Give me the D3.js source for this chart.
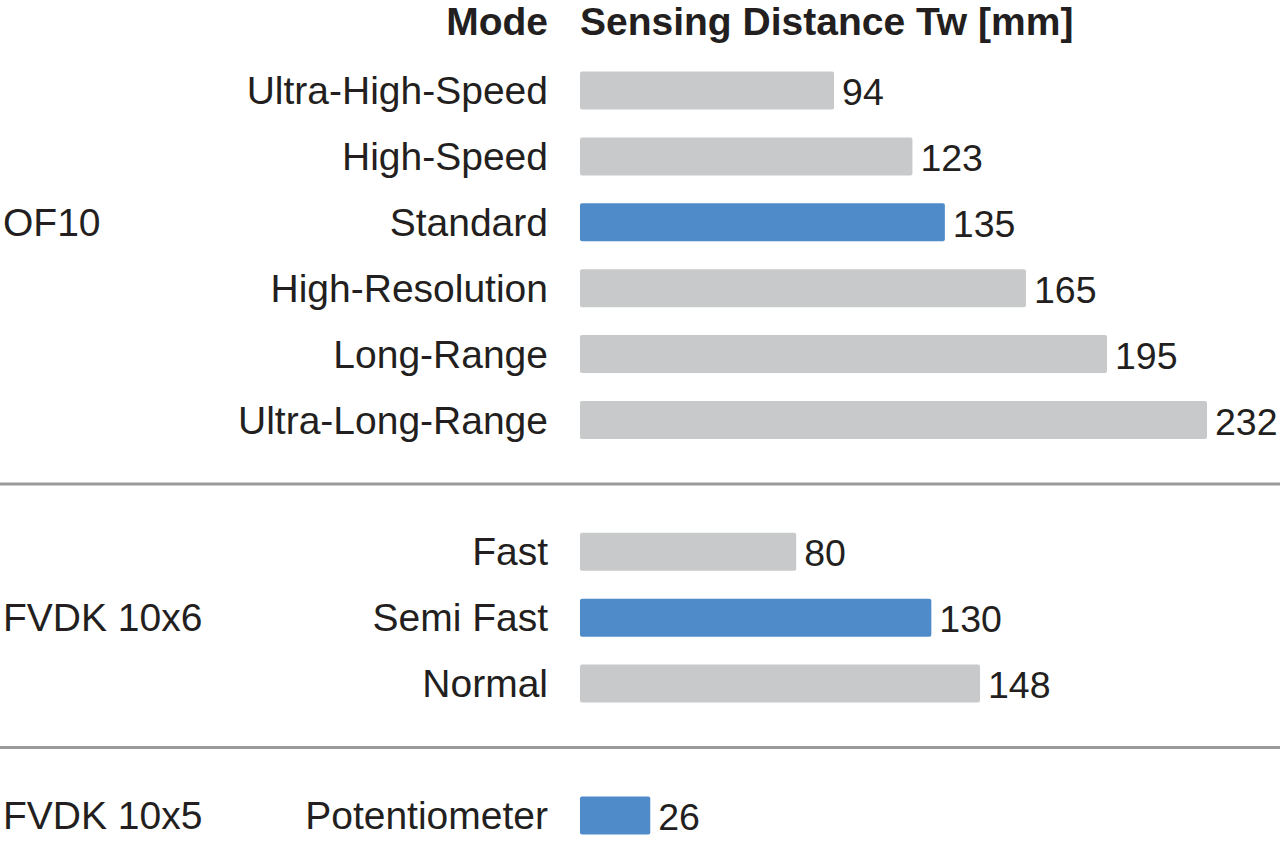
<!DOCTYPE html>
<html lang="en">
<head>
<meta charset="UTF-8">
<title>Sensing Distance</title>
<script src="https://d3js.org/d3.v7.min.js"></script>
<style>
  body { margin: 0; background: #fff; }
  text { font-family: "Liberation Sans", Arial, sans-serif; fill: #231f20; }
</style>
</head>
<body>
<div id="chart"></div>
<script>
// data
const groups = ["OF10", "FVDK 10x6", "FVDK 10x5"];
const modes = ["Ultra-High-Speed", "High-Speed", "Standard", "High-Resolution", "Long-Range", "Ultra-Long-Range",
               "Fast", "Semi Fast", "Normal",
               "Potentiometer"];
const modeGroup = ["OF10", "OF10", "OF10", "OF10", "OF10", "OF10",
                   "FVDK 10x6", "FVDK 10x6", "FVDK 10x6",
                   "FVDK 10x5"];
const distance = [94, 123, 135, 165, 195, 232, 80, 130, 148, 26];
const highlighted = ["Standard", "Semi Fast", "Potentiometer"];
const headers = ["Mode", "Sensing Distance Tw [mm]"];

const W = 1280, H = 842;
const fs = 39;
const svg = d3.select("#chart").append("svg")
  .attr("width", W).attr("height", H);

// rows: one empty slot between groups
let slot = 0;
const rows = modes.map((m, i) => {
  if (i > 0 && modeGroup[i] !== modeGroup[i - 1]) slot++;
  return { mode: m, group: modeGroup[i], value: distance[i], slot: slot++ };
});

const y = d3.scaleLinear().domain([0, 1]).range([90.5, 156.4]);
const x = d3.scaleLinear().domain([0, 232]).range([580, 1207]);
const barH = 38;

// header
svg.append("text").attr("x", 548).attr("y", y(-1) - 3).attr("dy", "0.35em")
  .attr("text-anchor", "end").attr("font-weight", "bold").attr("font-size", fs)
  .text(headers[0]);
svg.append("text").attr("x", 580).attr("y", y(-1) - 3).attr("dy", "0.35em")
  .attr("font-weight", "bold").attr("font-size", fs)
  .text(headers[1]);

// separators between groups
const seps = rows.filter((r, i) => i > 0 && r.group !== rows[i - 1].group).map(r => r.slot - 1);
svg.selectAll("line.sep").data(seps).join("line")
  .attr("class", "sep")
  .attr("x1", 0).attr("x2", W)
  .attr("y1", d => y(d) - 2).attr("y2", d => y(d) - 2)
  .attr("stroke", "#9a9a9a").attr("stroke-width", 3);

// bars
svg.selectAll("rect.bar").data(rows).join("rect")
  .attr("class", "bar")
  .attr("x", x(0))
  .attr("y", d => y(d.slot) - barH / 2)
  .attr("width", d => x(d.value) - x(0))
  .attr("height", barH)
  .attr("rx", 2)
  .attr("fill", d => highlighted.includes(d.mode) ? "#4f8ac9" : "#c8c9cb");

// mode labels
svg.selectAll("text.mode").data(rows).join("text")
  .attr("class", "mode")
  .attr("x", 548).attr("y", d => y(d.slot)).attr("dy", "0.35em")
  .attr("text-anchor", "end").attr("font-size", fs)
  .text(d => d.mode);

// value labels
svg.selectAll("text.val").data(rows).join("text")
  .attr("class", "val")
  .attr("x", d => x(d.value) + 8).attr("y", d => y(d.slot) + 1.5).attr("dy", "0.35em")
  .attr("font-size", 37.5)
  .text(d => d.value);

// group labels, on the row of the group's highlighted mode
const groupRows = groups.map(g => {
  const r = rows.find(r => r.group === g && highlighted.includes(r.mode));
  return { group: g, slot: r.slot };
});
svg.selectAll("text.grp").data(groupRows).join("text")
  .attr("class", "grp")
  .attr("x", 3).attr("y", d => y(d.slot)).attr("dy", "0.35em")
  .attr("font-size", fs)
  .text(d => d.group);
</script>
</body>
</html>
